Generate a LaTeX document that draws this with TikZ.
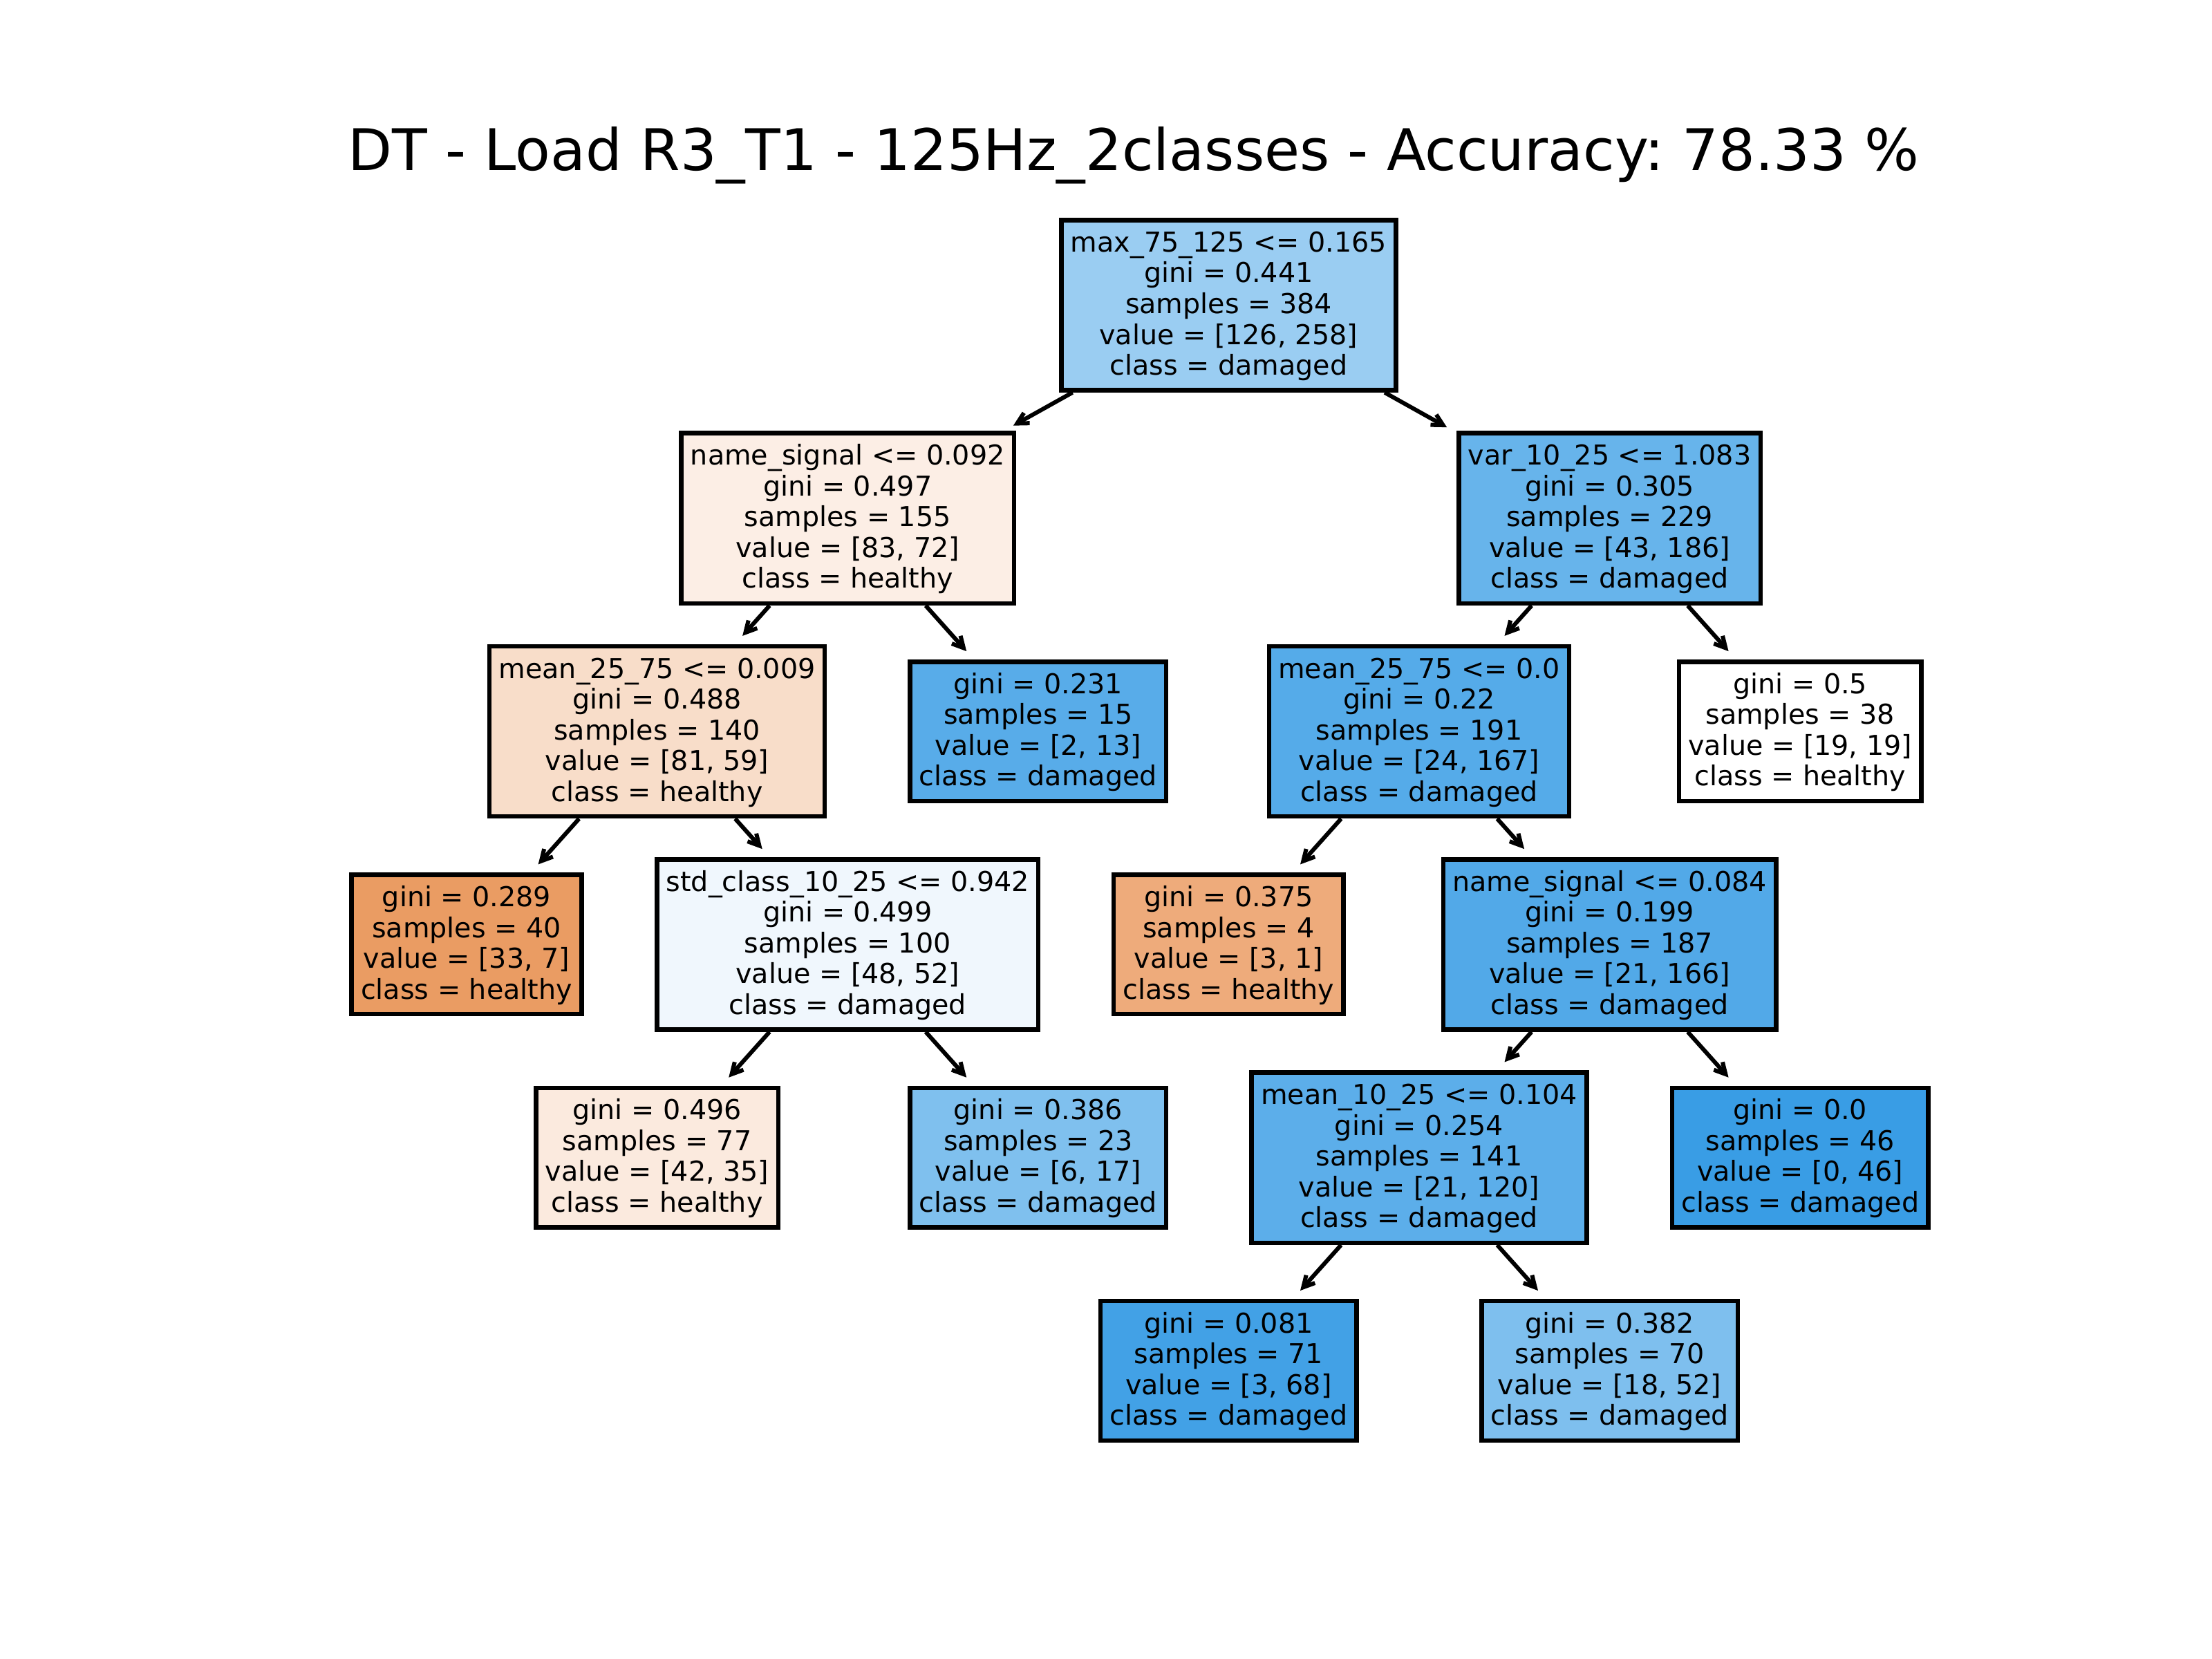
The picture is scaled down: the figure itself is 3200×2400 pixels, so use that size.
\documentclass[tikz,border=0pt]{standalone}
\usepackage{fontspec}
\setmainfont{DejaVu Sans}
\frenchspacing
\usetikzlibrary{arrows.meta}
\definecolor{cA}{RGB}{154,205,242}
\definecolor{cB}{RGB}{252,238,229}
\definecolor{cC}{RGB}{103,180,235}
\definecolor{cD}{RGB}{248,221,201}
\definecolor{cE}{RGB}{88,172,233}
\definecolor{cF}{RGB}{85,171,233}
\definecolor{cG}{RGB}{255,255,255}
\definecolor{cH}{RGB}{234,156,99}
\definecolor{cI}{RGB}{240,247,253}
\definecolor{cJ}{RGB}{238,171,123}
\definecolor{cK}{RGB}{82,169,232}
\definecolor{cL}{RGB}{251,234,222}
\definecolor{cM}{RGB}{127,192,238}
\definecolor{cN}{RGB}{92,174,234}
\definecolor{cO}{RGB}{57,157,229}
\definecolor{cP}{RGB}{66,161,230}
\definecolor{cQ}{RGB}{126,191,238}
\newcommand{\hiStrut}{\rule{0pt}{0.42cm}}
\newcommand{\loStrut}{\rule[-0.18cm]{0pt}{0.18cm}}
\tikzset{
  tnode/.style={draw=black, line width=0.065cm, inner xsep=0.134cm, inner ysep=0.04cm,
    align=center, font=\fontsize{11.27pt}{12.66pt}\selectfont},
  edge/.style={line width=0.06cm, -{Straight Barb[length=0.16cm,width=0.17cm]}, shorten >=0.16cm},
  titlestyle/.style={font=\fontsize{23.6pt}{28pt}\selectfont, anchor=base, inner sep=0pt}
}
\begin{document}
\begin{tikzpicture}[x=0.01cm, y=-0.01cm]
\fill[white] (0,0) rectangle (3200,2400);
\useasboundingbox (0,0) rectangle (3200,2400);

\node[titlestyle] (title) at (1640,246) {DT - Load R3\_T1 - 125Hz\_2classes - Accuracy: 78.33 \%};

\node[tnode, fill=cA] (root) at (1777.4,441.5) {\hiStrut max\_75\_125 <= 0.165\\gini = 0.441\\samples = 384\\value = [126, 258]\\class = damaged\loStrut};
\node[tnode, fill=cB] (n1) at (1226.2,749.8) {\hiStrut name\_signal <= 0.092\\gini = 0.497\\samples = 155\\value = [83, 72]\\class = healthy\loStrut};
\node[tnode, fill=cC] (n2) at (2328.6,749.8) {\hiStrut var\_10\_25 <= 1.083\\gini = 0.305\\samples = 229\\value = [43, 186]\\class = damaged\loStrut};
\node[tnode, fill=cD] (n3) at (950.6,1058.1) {\hiStrut mean\_25\_75 <= 0.009\\gini = 0.488\\samples = 140\\value = [81, 59]\\class = healthy\loStrut};
\node[tnode, fill=cE] (n4) at (1501.8,1058.1) {\hiStrut gini = 0.231\\samples = 15\\value = [2, 13]\\class = damaged\loStrut};
\node[tnode, fill=cF] (n5) at (2053.0,1058.1) {\hiStrut mean\_25\_75 <= 0.0\\gini = 0.22\\samples = 191\\value = [24, 167]\\class = damaged\loStrut};
\node[tnode, fill=cG] (n6) at (2604.2,1058.1) {\hiStrut gini = 0.5\\samples = 38\\value = [19, 19]\\class = healthy\loStrut};
\node[tnode, fill=cH] (n7) at (675,1366.4) {\hiStrut gini = 0.289\\samples = 40\\value = [33, 7]\\class = healthy\loStrut};
\node[tnode, fill=cI] (n8) at (1226.2,1366.4) {\hiStrut std\_class\_10\_25 <= 0.942\\gini = 0.499\\samples = 100\\value = [48, 52]\\class = damaged\loStrut};
\node[tnode, fill=cJ] (n9) at (1777.4,1366.4) {\hiStrut gini = 0.375\\samples = 4\\value = [3, 1]\\class = healthy\loStrut};
\node[tnode, fill=cK] (n10) at (2328.6,1366.4) {\hiStrut name\_signal <= 0.084\\gini = 0.199\\samples = 187\\value = [21, 166]\\class = damaged\loStrut};
\node[tnode, fill=cL] (n11) at (950.6,1674.7) {\hiStrut gini = 0.496\\samples = 77\\value = [42, 35]\\class = healthy\loStrut};
\node[tnode, fill=cM] (n12) at (1501.8,1674.7) {\hiStrut gini = 0.386\\samples = 23\\value = [6, 17]\\class = damaged\loStrut};
\node[tnode, fill=cN] (n13) at (2053.0,1674.7) {\hiStrut mean\_10\_25 <= 0.104\\gini = 0.254\\samples = 141\\value = [21, 120]\\class = damaged\loStrut};
\node[tnode, fill=cO] (n14) at (2604.2,1674.7) {\hiStrut gini = 0.0\\samples = 46\\value = [0, 46]\\class = damaged\loStrut};
\node[tnode, fill=cP] (n15) at (1777.4,1983.0) {\hiStrut gini = 0.081\\samples = 71\\value = [3, 68]\\class = damaged\loStrut};
\node[tnode, fill=cQ] (n16) at (2328.6,1983.0) {\hiStrut gini = 0.382\\samples = 70\\value = [18, 52]\\class = damaged\loStrut};

\draw[edge] (root) -- (n1);
\draw[edge] (root) -- (n2);
\draw[edge] (n1) -- (n3);
\draw[edge] (n1) -- (n4);
\draw[edge] (n3) -- (n7);
\draw[edge] (n3) -- (n8);
\draw[edge] (n8) -- (n11);
\draw[edge] (n8) -- (n12);
\draw[edge] (n2) -- (n5);
\draw[edge] (n2) -- (n6);
\draw[edge] (n5) -- (n9);
\draw[edge] (n5) -- (n10);
\draw[edge] (n10) -- (n13);
\draw[edge] (n10) -- (n14);
\draw[edge] (n13) -- (n15);
\draw[edge] (n13) -- (n16);
\end{tikzpicture}
\end{document}
